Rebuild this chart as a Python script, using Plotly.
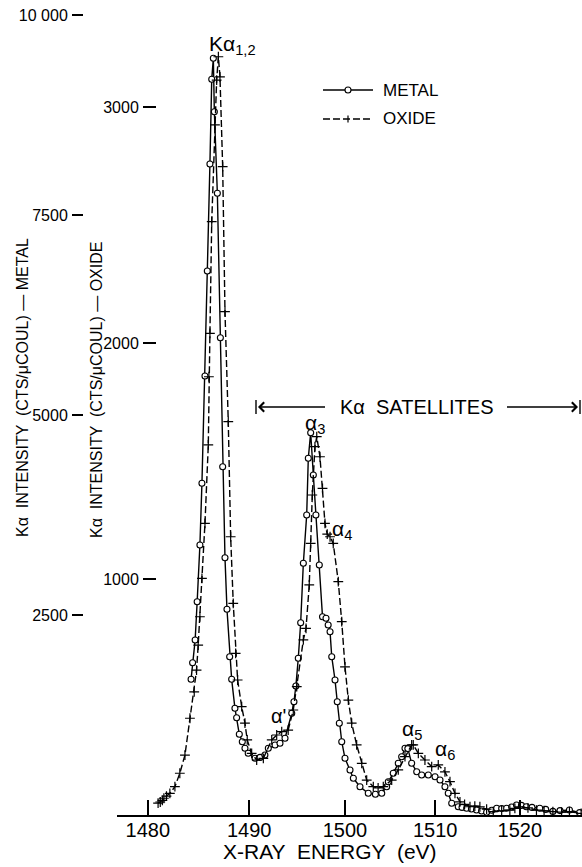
import plotly.graph_objects as go

# ---------------- data ----------------
metal_energy_ev = [1484.2, 1484.35, 1484.6, 1484.8, 1485.07, 1485.27, 1485.57, 1485.8, 1486.06,
                   1486.24, 1486.4, 1486.5, 1486.8, 1487.1, 1487.33, 1487.56, 1487.76, 1488.03,
                   1488.23, 1488.56, 1488.73, 1489.0, 1489.3, 1489.57, 1489.9, 1490.6, 1491.1,
                   1491.6, 1491.95, 1492.64, 1493.15, 1493.67, 1494.37, 1494.6, 1494.8, 1495.05,
                   1495.3, 1495.58, 1495.93, 1496.1, 1496.35, 1496.63, 1496.9, 1497.26, 1497.6,
                   1497.97, 1498.2, 1498.4, 1498.58, 1498.93, 1499.17, 1499.39, 1499.65, 1500.0,
                   1500.54, 1500.9, 1501.62, 1502.52, 1503.3, 1504.0, 1504.54, 1504.72, 1505.27,
                   1505.83, 1506.21, 1506.58, 1506.9, 1507.33, 1507.9, 1508.46, 1509.21, 1509.98,
                   1510.55, 1511.12, 1511.5, 1511.9, 1512.66, 1513.1, 1513.64, 1514.2, 1514.8,
                   1515.4, 1516.0, 1516.6, 1517.2, 1517.8, 1518.4, 1519.0, 1519.6, 1520.2, 1520.8,
                   1521.5, 1522.46, 1523.2, 1524.1, 1525.0, 1526.2, 1527.5]
metal_intensity = [1696, 1904, 2188, 2666, 3375, 4146, 5488, 6800, 8138,
                   9196, 9459, 8791, 7771, 5966, 4354, 3216, 2571, 1979,
                   1696, 1334, 1216, 1009, 916, 834, 771, 709, 720,
                   750, 834, 875, 896, 959, 1271, 1416, 1613, 1959,
                   2404, 3146, 3750, 4459, 4779, 4250, 3750, 3125, 2479,
                   2459, 2375, 2291, 1979, 1688, 1416, 1146, 916, 709,
                   563, 459, 354, 271, 260, 271, 354, 416, 521,
                   646, 729, 834, 830, 646, 541, 500, 500, 479,
                   438, 354, 271, 146, 104, 95, 84, 75, 62,
                   50, 35, 60, 84, 80, 84, 100, 125, 120, 104,
                   95, 84, 70, 45, 55, 62, 30]

oxide_energy_ev = [1480.99, 1481.2, 1481.4, 1481.55, 1481.8, 1482.13, 1482.62, 1483.1, 1483.6,
                   1484.09, 1484.51, 1484.74, 1484.9, 1485.07, 1485.27, 1485.57, 1485.9, 1485.96,
                   1486.06, 1486.24, 1486.56, 1486.73, 1486.9, 1487.06, 1487.33, 1487.56, 1487.89,
                   1488.13, 1488.39, 1488.63, 1488.83, 1489.24, 1489.57, 1489.8, 1490.25, 1490.76,
                   1491.44, 1492.3, 1492.81, 1493.33, 1494.0, 1494.53, 1494.89, 1495.58, 1495.86,
                   1496.2, 1496.35, 1496.52, 1496.8, 1496.99, 1497.33, 1497.6, 1497.86, 1498.1,
                   1498.4, 1498.74, 1499.28, 1499.65, 1500.0, 1500.36, 1500.72, 1501.26, 1501.81,
                   1502.35, 1503.07, 1503.6, 1504.17, 1505.1, 1505.83, 1506.58, 1507.33, 1507.51,
                   1508.08, 1508.83, 1509.6, 1510.35, 1511.12, 1511.7, 1512.28, 1512.86, 1513.4,
                   1514.03, 1514.6, 1515.2, 1516.0, 1516.79, 1517.8, 1518.79, 1519.4, 1520.0,
                   1521.0, 1522.05, 1523.0, 1524.1, 1525.2, 1526.2, 1527.7]
oxide_intensity = [50, 55, 62, 71, 80, 92, 120, 177, 254,
                   410, 522, 614, 720, 840, 1003, 1236, 1568, 1857,
                   2041, 2514, 2924, 3114, 3213, 3128, 2747, 2133, 1667,
                   1179, 897, 685, 572, 459, 389, 318, 261, 233,
                   240, 318, 339, 353, 360, 445, 544, 742, 791,
                   975, 1151, 1356, 1561, 1603, 1518, 1384, 1236, 1190,
                   1179, 1151, 989, 819, 628, 487, 389, 297, 219,
                   148, 120, 115, 120, 148, 191, 247, 297, 297,
                   261, 233, 205, 212, 183, 141, 92, 56, 45,
                   35, 38, 35, 25, 14, 18, 21, 28, 35,
                   30, 21, 18, 14, 12, 14, 7]

x_tick_energies = [1480, 1490, 1500, 1510, 1520]
metal_tick_values = [2500, 5000, 7500, 10000]
metal_tick_text = ["2500", "5000", "7500", "10 000"]
oxide_tick_values = [1000, 2000, 3000]
oxide_tick_text = ["1000", "2000", "3000"]
series_names = ["METAL", "OXIDE"]


def spectrometer_scale(e):
    """Slightly non-linear energy scale of the crystal spectrometer record."""
    u = e - 1500.0
    return 1500.0 + u - 0.00301 * u * u


W, H = 582, 867
FONT = "Liberation Sans, Arial, sans-serif"


def px(x):
    return x / W


def py(y):
    return 1 - y / H


fig = go.Figure()
fig.add_trace(go.Scatter(
    x=[spectrometer_scale(e) for e in metal_energy_ev], y=metal_intensity,
    mode="lines+markers", name=series_names[0], showlegend=False,
    line=dict(color="black", width=1.4),
    marker=dict(symbol="circle", size=6, color="white", line=dict(color="black", width=1.1)),
    yaxis="y"))
fig.add_trace(go.Scatter(
    x=[spectrometer_scale(e) for e in oxide_energy_ev], y=oxide_intensity,
    mode="lines+markers", name=series_names[1], showlegend=False,
    line=dict(color="black", width=1.4, dash="7px,3px"),
    marker=dict(symbol="cross-thin", size=7, color="black", line=dict(color="black", width=1.2)),
    yaxis="y2"))

x0 = 1500 + (117 - 345) / 9.3
x1 = 1500 + (582 - 345) / 9.3
fig.update_layout(
    width=W, height=H,
    margin=dict(l=0, r=0, t=0, b=0),
    paper_bgcolor="white", plot_bgcolor="white",
    font=dict(family=FONT, color="black"),
    showlegend=False,
    xaxis=dict(domain=[117 / W, 1], range=[x0, x1], showgrid=False, zeroline=False,
               showline=True, linecolor="black", linewidth=1.5,
               ticks="inside", ticklen=15, tickwidth=1.5, tickcolor="black",
               tickvals=[spectrometer_scale(e) for e in x_tick_energies],
               ticktext=[str(e) for e in x_tick_energies],
               tickfont=dict(size=20, family=FONT), ticklabelstandoff=-4),
    yaxis=dict(domain=[1 - 815 / H, 1], range=[0, 815 / 0.08], anchor="free", position=83 / W,
               showgrid=False, zeroline=False, showline=False,
               ticks="outside", ticklen=11, tickwidth=1.5, tickcolor="black",
               tickvals=metal_tick_values, ticktext=metal_tick_text,
               tickfont=dict(size=16, family=FONT), ticklabelstandoff=1),
    yaxis2=dict(domain=[1 - 815 / H, 1], range=[0, 815 / 0.236], anchor="free", position=156 / W,
                overlaying="y", side="left",
                showgrid=False, zeroline=False, showline=False,
                ticks="outside", ticklen=13, tickwidth=1.5, tickcolor="black",
                tickvals=oxide_tick_values, ticktext=oxide_tick_text,
                tickfont=dict(size=16, family=FONT), ticklabelstandoff=1),
)

annotations = [
    dict(x=px(22), y=py(388), text="Kα  INTENSITY  (CTS/μCOUL) — METAL", textangle=-90,
         font=dict(size=16)),
    dict(x=px(96), y=py(390), text="Kα  INTENSITY  (CTS/μCOUL) — OXIDE", textangle=-90,
         font=dict(size=16)),
    dict(x=px(330), y=py(851), text="X-RAY  ENERGY  (eV)", font=dict(size=21)),
    dict(x=px(232), y=py(45), text="Kα<sub>1,2</sub>", font=dict(size=21)),
    dict(x=px(315), y=py(424), text="α<sub>3</sub>", font=dict(size=21)),
    dict(x=px(342), y=py(530), text="α<sub>4</sub>", font=dict(size=21)),
    dict(x=px(278), y=py(716), text="α'", font=dict(size=20)),
    dict(x=px(412), y=py(730), text="α<sub>5</sub>", font=dict(size=21)),
    dict(x=px(445), y=py(750), text="α<sub>6</sub>", font=dict(size=21)),
    dict(x=px(416), y=py(407), text="Kα  SATELLITES", font=dict(size=20)),
]
for a in annotations:
    a.update(xref="paper", yref="paper", showarrow=False, xanchor="center", yanchor="middle")

# legend texts
for name, yy in zip(series_names, [90, 119]):
    annotations.append(dict(xref="paper", yref="paper", x=px(381), y=py(yy), text=name,
                            showarrow=False, xanchor="left", yanchor="middle",
                            font=dict(size=17)))

# arrows for the satellite range
annotations.append(dict(xref="paper", yref="paper", x=px(258), y=py(407), ax=70, ay=0,
                        text=" ", showarrow=True, arrowhead=4, arrowsize=1.4, arrowwidth=1.3,
                        arrowcolor="black"))
annotations.append(dict(xref="paper", yref="paper", x=px(578), y=py(407), ax=-74, ay=0,
                        text=" ", showarrow=True, arrowhead=4, arrowsize=1.4, arrowwidth=1.3,
                        arrowcolor="black"))
fig.update_layout(annotations=annotations)


def pline(xa, ya, xb, yb, dash="solid", width=1.4):
    return dict(type="line", xref="paper", yref="paper", x0=px(xa), x1=px(xb),
                y0=py(ya), y1=py(yb), line=dict(color="black", width=width, dash=dash))


shapes = [
    pline(256, 400, 256, 414),
    pline(580, 400, 580, 414),
    # legend samples
    pline(323, 90, 373, 90),
    dict(type="circle", xref="paper", yref="paper", x0=px(345), x1=px(351), y0=py(87), y1=py(93),
         line=dict(color="black", width=1.1), fillcolor="white"),
    pline(323, 119, 373, 119, dash="7px,3px"),
    pline(348, 115.5, 348, 122.5, width=1.2),
]
fig.update_layout(shapes=shapes)

fig.write_html("out.html")
